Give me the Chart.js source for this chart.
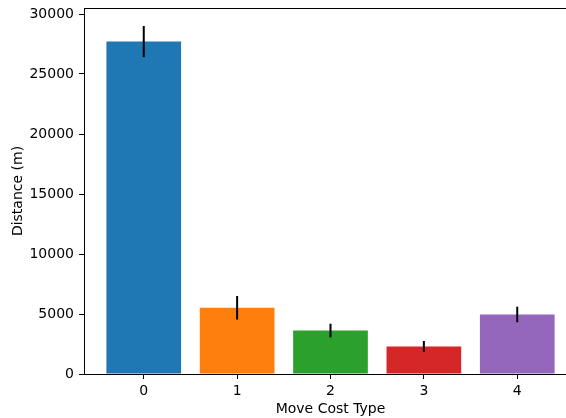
<!DOCTYPE html>
<html>
<head>
<meta charset="utf-8">
<script src="https://cdn.jsdelivr.net/npm/chart.js@4/dist/chart.umd.min.js"></script>
<style>
  html, body { margin: 0; padding: 0; background: #fff; overflow: hidden; }
  #wrap { width: 566px; height: 418px; overflow: hidden; }
  canvas { display: block; }
</style>
</head>
<body>
<div id="wrap"><canvas id="c" width="590" height="418"></canvas></div>
<script>
// Mean travelled distance per move-cost type, with its spread
const costTypes = [0, 1, 2, 3, 4];
const distance = [27700, 5520, 3620, 2290, 4960];
const distanceErr = [1300, 980, 570, 460, 650];
const barColors = ['#1f77b4', '#ff7f0e', '#2ca02c', '#d62728', '#9467bd'];
const yTickValues = [0, 5000, 10000, 15000, 20000, 25000, 30000];

const FONT = '"DejaVu Sans", sans-serif';

// Vertical error bars drawn on top of the bars
const errorBars = {
  id: 'errorBars',
  afterDatasetsDraw(chart) {
    const { ctx, scales: { x, y } } = chart;
    ctx.save();
    ctx.strokeStyle = '#000';
    ctx.lineWidth = 2;
    costTypes.forEach((c, i) => {
      const px = x.getPixelForValue(c);
      ctx.beginPath();
      ctx.moveTo(px, y.getPixelForValue(distance[i] - distanceErr[i]));
      ctx.lineTo(px, y.getPixelForValue(distance[i] + distanceErr[i]));
      ctx.stroke();
    });
    ctx.restore();
  }
};

// Top and right spines of the axes frame
const frame = {
  id: 'frame',
  afterDraw(chart) {
    const { ctx, chartArea: a } = chart;
    ctx.save();
    ctx.strokeStyle = '#000';
    ctx.lineWidth = 1;
    ctx.beginPath();
    ctx.moveTo(a.left, a.top + 0.5);
    ctx.lineTo(a.right, a.top + 0.5);
    ctx.moveTo(a.right - 0.5, a.top);
    ctx.lineTo(a.right - 0.5, a.bottom);
    ctx.stroke();
    ctx.restore();
  }
};

new Chart(document.getElementById('c'), {
  type: 'bar',
  data: {
    datasets: [{
      data: costTypes.map((c, i) => ({ x: c, y: distance[i] })),
      backgroundColor: barColors,
      borderWidth: 0,
      categoryPercentage: 1.0,
      barPercentage: 0.8
    }]
  },
  options: {
    responsive: false,
    animation: false,
    devicePixelRatio: 1,
    layout: { padding: { top: 8, right: 13, left: 0, bottom: 0 } },
    plugins: { legend: { display: false }, tooltip: { enabled: false } },
    scales: {
      x: {
        type: 'linear',
        min: -0.64,
        max: 4.64,
        offset: false,
        afterBuildTicks(scale) { scale.ticks = costTypes.map(v => ({ value: v })); },
        afterFit(scale) {
          scale.height = 44;
          scale.paddingLeft = 0;
          scale.paddingRight = 0;
        },
        ticks: {
          color: '#000',
          font: { family: FONT, size: 14 },
          padding: 4,
          maxRotation: 0,
          callback: v => String(v)
        },
        grid: {
          display: true,
          offset: false,
          drawOnChartArea: false,
          drawTicks: true,
          tickLength: 5,
          tickColor: '#000',
          tickWidth: 1
        },
        border: { display: true, color: '#000', width: 1 },
        title: {
          display: true,
          text: 'Move Cost Type',
          color: '#000',
          font: { family: FONT, size: 14 },
          padding: { top: 0, bottom: 0 }
        }
      },
      y: {
        type: 'linear',
        min: 0,
        max: 30500,
        afterBuildTicks(scale) { scale.ticks = yTickValues.map(v => ({ value: v })); },
        afterFit(scale) {
          scale.width = 84;
          scale.paddingTop = 0;
          scale.paddingBottom = 0;
        },
        ticks: {
          color: '#000',
          font: { family: FONT, size: 14 },
          padding: 5,
          callback: v => String(v)
        },
        grid: {
          display: true,
          offset: false,
          drawOnChartArea: false,
          drawTicks: true,
          tickLength: 5,
          tickColor: '#000',
          tickWidth: 1
        },
        border: { display: true, color: '#000', width: 1 },
        title: {
          display: true,
          text: 'Distance (m)',
          color: '#000',
          font: { family: FONT, size: 14 },
          padding: { top: 10, bottom: 0 }
        }
      }
    }
  },
  plugins: [errorBars, frame]
});
</script>
</body>
</html>
